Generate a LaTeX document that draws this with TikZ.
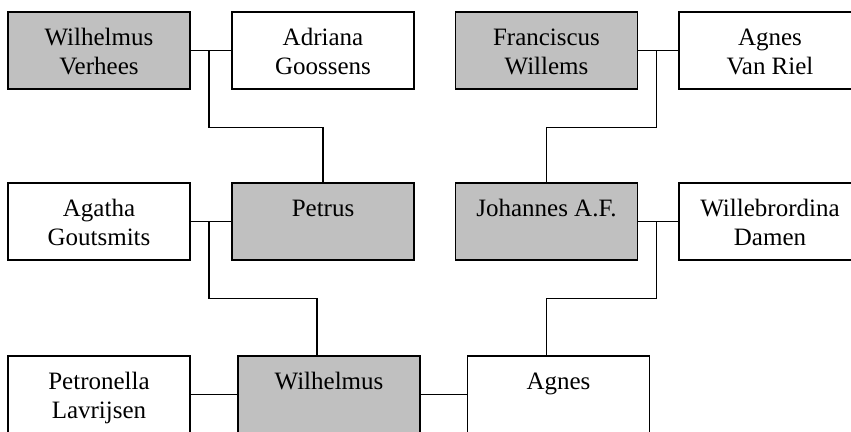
\documentclass[tikz,border=0pt]{standalone}
\usepackage{fontspec}
\setmainfont{Liberation Serif}
\usetikzlibrary{calc}
\definecolor{ancestor}{HTML}{C0C0C0}
\newcommand{\toptext}[1]{\parbox[c][77pt][t]{182pt}{\centering\rule{0pt}{33pt}#1}}
\tikzset{
  person/.style={draw, line width=1.8pt, inner sep=0pt, minimum width=182pt, minimum height=77pt,
    font=\fontsize{25}{29.5}\selectfont},
  link/.style={line width=1.8pt}
}
\begin{document}
\begin{tikzpicture}[x=1pt, y=-1pt]
\useasboundingbox (0,0) rectangle (851,431);

\foreach \who/\x/\y/\col/\txt in {
    wv/99/50.5/ancestor/{Wilhelmus\\Verhees}, ag/323/50.5/white/{Adriana\\Goossens},
    fw/546.5/50.5/ancestor/{Franciscus\\Willems}, avr/770/50.5/white/{Agnes\\Van Riel},
    agg/99/221.5/white/{Agatha\\Goutsmits}, pe/323/221.5/ancestor/{Petrus},
    jo/546.5/221.5/ancestor/{Johannes A.F.}, wd/770/221.5/white/{Willebrordina\\Damen},
    pl/99/394.5/white/{Petronella\\Lavrijsen}, wi/329/394.5/ancestor/{Wilhelmus},
    an/558.5/394.5/white/{Agnes}}
{
    \node[person, fill=\col] (\who) at (\x,\y) {\toptext{\txt}};
}

\foreach \a/\b in {wv/ag, fw/avr, agg/pe, jo/wd, pl/wi, wi/an}
{
    \draw[link] (\a.east) -- (\b.west);
}

\draw[link] ($(wv.east)+(18,0)$) -- ++(0,77) -| (pe.north);
\draw[link] ($(fw.east)+(18,0)$) -- ++(0,77) -| (jo.north);
\draw[link] ($(agg.east)+(18,0)$) -- ++(0,77) -| ($(wi.north)+(-12,0)$);
\draw[link] ($(jo.east)+(18,0)$) -- ++(0,77) -| (jo.south |- an.north);
\end{tikzpicture}
\end{document}
